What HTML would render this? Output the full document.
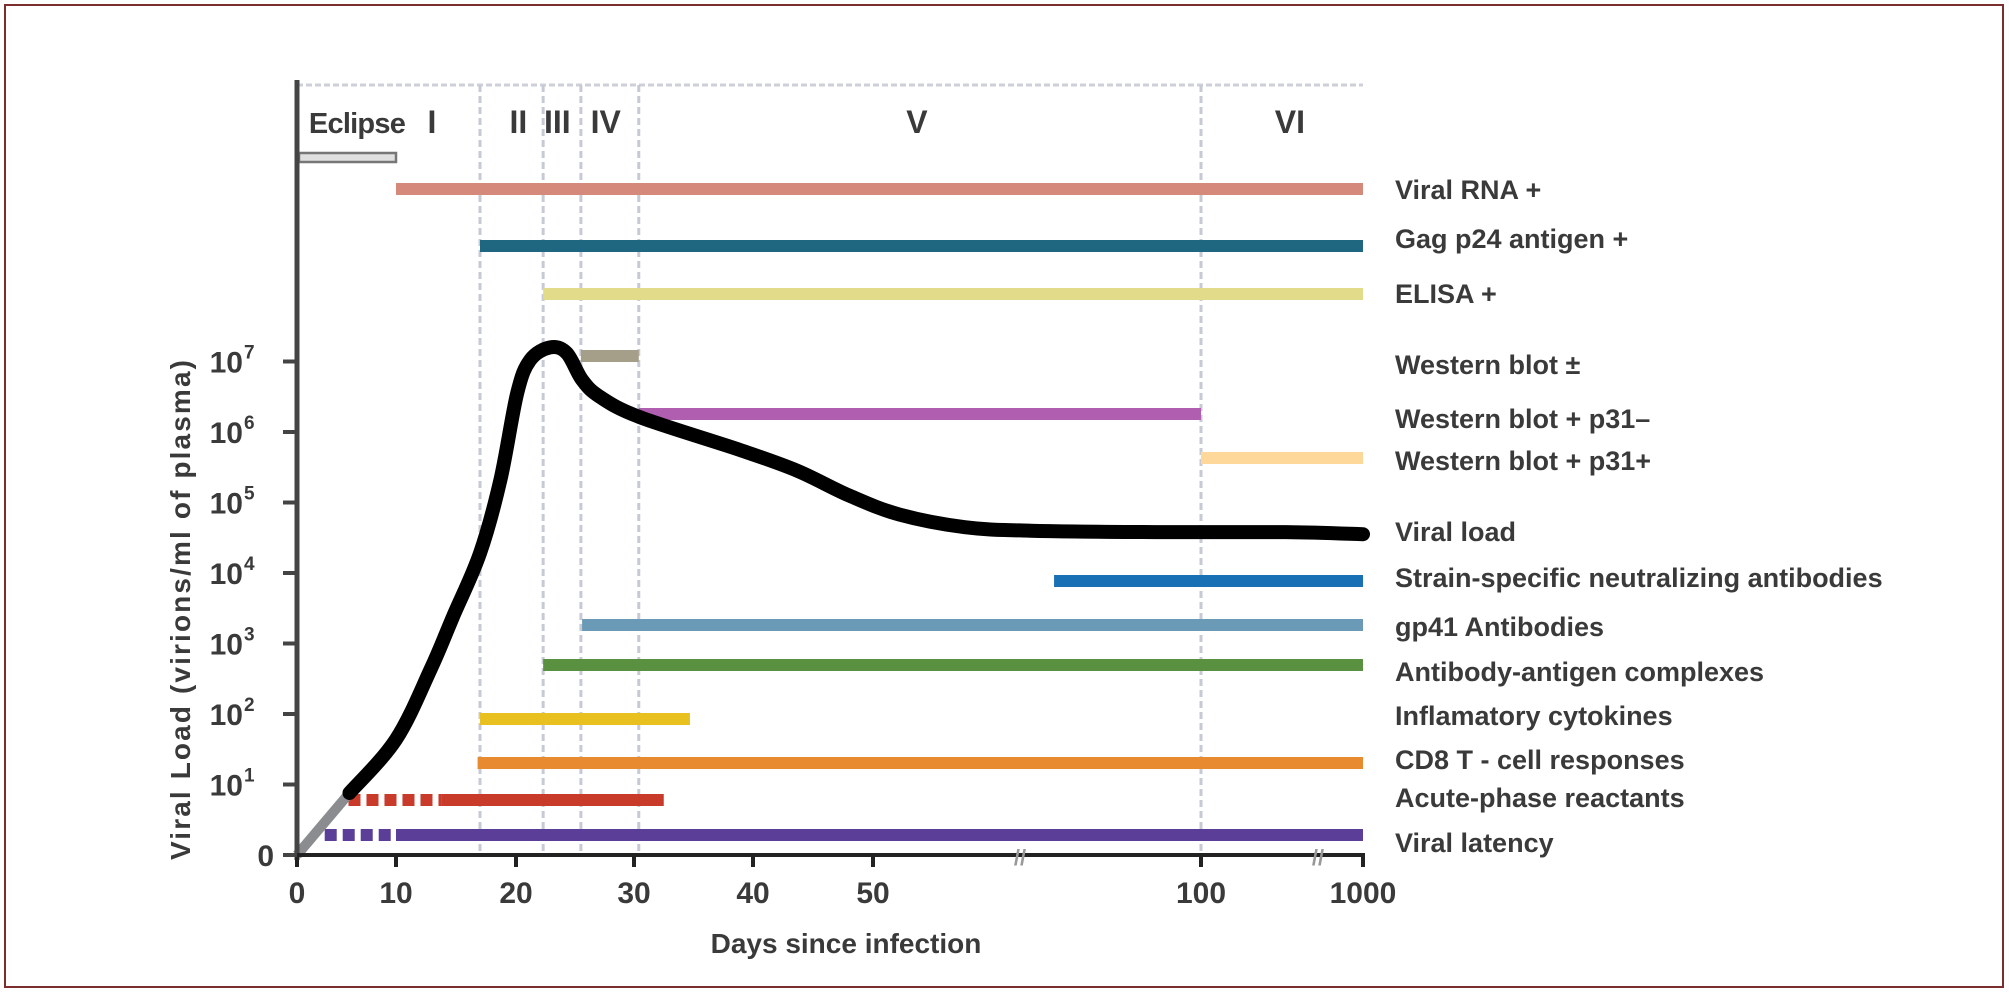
<!DOCTYPE html>
<html><head><meta charset="utf-8"><style>
html,body{margin:0;padding:0;background:#fff}
svg{display:block}
text{font-family:"Liberation Sans",sans-serif;font-weight:bold;fill:#3a3a3a}
</style></head><body>
<svg id="chart" width="2009" height="992" viewBox="0 0 2009 992">
<rect x="5" y="5" width="1998" height="982" fill="none" stroke="#7a2e2e" stroke-width="2"/>
<g id="grid"></g>
<g id="bars"></g>
<g id="curve"></g>
<g id="axes"></g>
<g id="labels"></g>
</svg>
<script>
const xTickDays=[0,10,20,30,40,50,100,1000];
const xTickLabels=["0","10","20","30","40","50","100","1000"];
const yTickLevels=[0,1,2,3,4,5,6,7];
const phaseNames=["Eclipse","I","II","III","IV","V","VI"];
const phaseDays=[1.2,13,20.2,23.5,27.6,56.7,594];
const phaseBoundaries=[17,22.3,25.5,30.4,100];
const barNames=["Viral RNA +","Gag p24 antigen +","ELISA +","Western blot ±","Western blot + p31–","Western blot + p31+","Strain-specific neutralizing antibodies","gp41 Antibodies","Antibody-antigen complexes","Inflamatory cytokines","CD8 T - cell responses","Acute-phase reactants","Viral latency"];
const barStart=[10,17,22.3,25.5,30.4,100,77.6,25.6,22.3,17,16.8,13.8,10];
const barEnd=[1000,1000,1000,30.4,100,1000,1000,1000,1000,34.7,1000,32.5,1000];
const barColors=["#d4897a","#1f6680","#e1db8a","#a59e88","#b05fb0","#fdd89a","#1a70b5","#6a9ab5","#5a9140","#e8c020","#e88a30","#c83a2a","#5a3e98"];
const barRows=[189,246,294,356,414,458,581,625,665,719,763,800,835];
const labelRows=[189,238,293,364,418,460,531,577,626,671,715,759,797,842];
const labelNames=["Viral RNA +","Gag p24 antigen +","ELISA +","Western blot ±","Western blot + p31–","Western blot + p31+","Viral load","Strain-specific neutralizing antibodies","gp41 Antibodies","Antibody-antigen complexes","Inflamatory cytokines","CD8 T - cell responses","Acute-phase reactants","Viral latency"];
const loadDays=[5.3,10,12.9,14.75,17.0,18.7,20.1,21.2,22.9,24.3,25.6,27.1,30.5,39.0,43.7,48,54,64,74,93,572,1000];
const loadLog=[0.88,1.64,2.64,3.38,4.28,5.32,6.55,7.02,7.2,7.12,6.74,6.5,6.21,5.74,5.45,5.1,4.83,4.65,4.6,4.58,4.58,4.55];

const NS="http://www.w3.org/2000/svg";
const xPx=[297,396,516,634,753,873,1201,1363];
function X(d){for(let i=0;i<xTickDays.length-1;i++){if(d<=xTickDays[i+1]){const a=xTickDays[i],b=xTickDays[i+1];return xPx[i]+(d-a)/(b-a)*(xPx[i+1]-xPx[i]);}}return 1363;}
function Y(l){return 855-l*70.5;}
function mk(tag,attrs,parent,txt){const e=document.createElementNS(NS,tag);for(const k in attrs)e.setAttribute(k,attrs[k]);if(txt!==undefined)e.textContent=txt;document.getElementById(parent).appendChild(e);return e;}

let e=mk('line',{x1:297,y1:85,x2:1363,y2:85,stroke:'#cdd0d8','stroke-width':3,'stroke-dasharray':'6 3'},'grid');


phaseBoundaries.forEach((d,i)=>{const l=mk('line',{x1:X(d),y1:85,x2:X(d),y2:855,stroke:'#c6cad4','stroke-width':3,'stroke-dasharray':'7 4'},'grid');

});
phaseNames.forEach((n,i)=>{const t=mk('text',{x:X(phaseDays[i]),y:133,'font-size':i==0?29:32,'text-anchor':i==0?'start':'middle'},'grid',n);
if(i==0)t.setAttribute('textLength','97');

});
e=mk('rect',{x:299,y:153,width:97,height:9,fill:'#e0e0e0',stroke:'#777','stroke-width':2.5},'grid');



barNames.forEach((n,i)=>{const y=barRows[i];const x1=X(barStart[i]),x2=X(barEnd[i]);
const r=mk('rect',{x:x1,y:y-6,width:x2-x1,height:12,fill:barColors[i]},'bars');

});
[[5.2,13.8,800,'#c83a2a','acute-phase-dashes'],[2.8,10,835,'#5a3e98','viral-latency-dashes']].forEach(s=>{
const l=mk('line',{x1:X(s[0]),y1:s[2],x2:X(s[1]),y2:s[2],stroke:s[3],'stroke-width':12,'stroke-dasharray':'12 6'},'bars');

});

const pts=loadDays.map((d,i)=>[X(d),Y(loadLog[i])]);
let p='M'+pts[0][0]+','+pts[0][1];
for(let i=0;i<pts.length-1;i++){const p0=pts[Math.max(0,i-1)],p1=pts[i],p2=pts[i+1],p3=pts[Math.min(pts.length-1,i+2)];
p+=` C${p1[0]+(p2[0]-p0[0])/6},${p1[1]+(p2[1]-p0[1])/6} ${p2[0]-(p3[0]-p1[0])/6},${p2[1]-(p3[1]-p1[1])/6} ${p2[0]},${p2[1]}`;}
e=mk('line',{x1:X(0),y1:Y(0),x2:pts[0][0],y2:pts[0][1],stroke:'#8a8c90','stroke-width':10},'curve');


e=mk('path',{d:p,fill:'none',stroke:'#000','stroke-width':14,'stroke-linecap':'round','stroke-linejoin':'round'},'curve');



e=mk('line',{x1:297,y1:80,x2:297,y2:860,stroke:'#444','stroke-width':5},'axes');


e=mk('line',{x1:283,y1:855,x2:1365,y2:855,stroke:'#222','stroke-width':4},'axes');


xTickDays.forEach((d,i)=>{const x=X(d);
const t=mk('line',{x1:x,y1:855,x2:x,y2:867,stroke:'#222','stroke-width':4},'axes');


const l=mk('text',{x:x,y:903,'font-size':30,'text-anchor':'middle'},'axes',xTickLabels[i]);

});
yTickLevels.forEach(k=>{const y=Y(k);
const t=mk('line',{x1:283,y1:y,x2:297,y2:y,stroke:'#444','stroke-width':4},'axes');


const l=mk('text',{x:k==0?274:243,y:y+11,'font-size':30,'text-anchor':'end'},'axes',k==0?'0':'10');


if(k>0){const s=mk('text',{x:244,y:y-3,'font-size':19,'text-anchor':'start'},'axes',String(k));

}});
[1020,1318].forEach((x,i)=>{const b=mk('text',{x:x,y:865,'font-size':22,'text-anchor':'middle',style:'fill:#999'},'axes','//');

});
e=mk('text',{x:846,y:953,'font-size':28,'text-anchor':'middle'},'axes','Days since infection');


e=mk('text',{x:190,y:610,'font-size':28,'text-anchor':'middle',transform:'rotate(-90 190 610)',textLength:500},'axes','Viral Load (virions/ml of plasma)');



labelNames.forEach((n,i)=>{const t=mk('text',{x:1395,y:labelRows[i]+10,'font-size':27},'labels',n);

});
</script>
</body></html>
